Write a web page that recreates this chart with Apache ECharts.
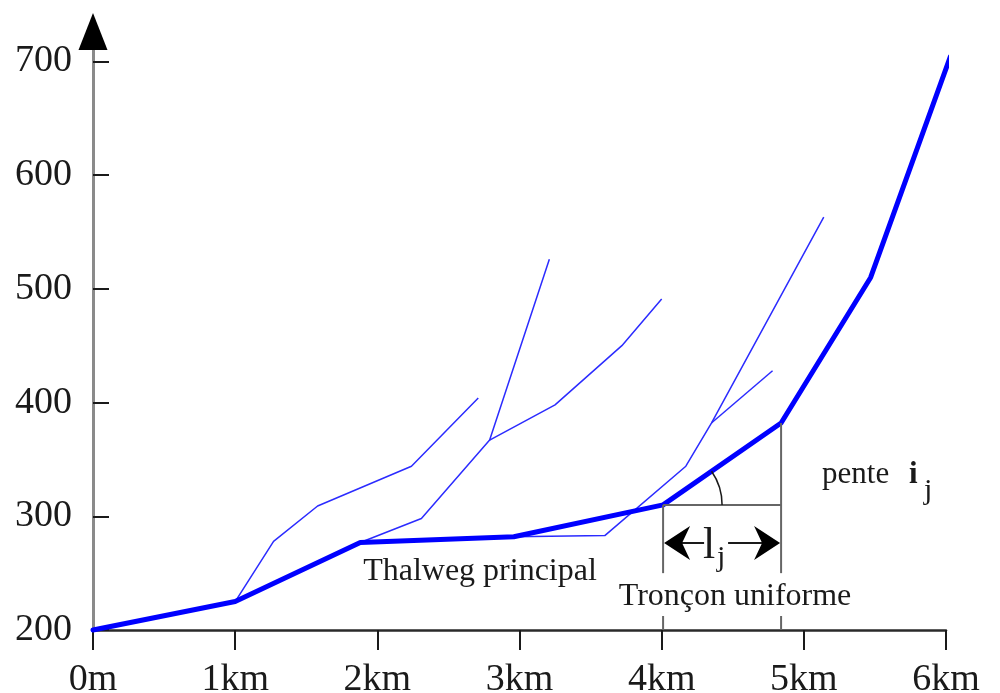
<!DOCTYPE html>
<html>
<head>
<meta charset="utf-8">
<script src="https://cdn.jsdelivr.net/npm/echarts@6/dist/echarts.min.js"></script>
<style>
  html, body { margin: 0; padding: 0; background: #fff; }
  #chart { width: 1000px; height: 693px; }
</style>
</head>
<body>
<div id="chart"></div>
<script>
// ===== 数据 =====
var xTickLabels = ['0m', '1km', '2km', '3km', '4km', '5km', '6km'];
var yTicks = [200, 300, 400, 500, 600, 700];

// Thalweg principal (km, m)
var mainX = [0, 1.0, 1.88, 2.96, 4.01, 4.84, 5.47, 6.03];
var mainY = [200, 225, 277, 282, 310, 382, 510, 704];

// affluents
var branch1X = [1.0, 1.27, 1.58, 2.24, 2.71];
var branch1Y = [225, 278, 309, 344, 404];
var branch2X = [1.88, 2.31, 2.79, 3.21];
var branch2Y = [277, 298, 367, 526];
var branch3X = [2.79, 3.25, 3.72, 4.0];
var branch3Y = [367, 398, 450, 491];
var branch4X = [2.96, 3.60, 4.17, 4.35, 5.14];
var branch4Y = [282, 283, 344, 382, 563];
var branch5X = [4.35, 4.78];
var branch5Y = [382, 428];

// tronçon uniforme = segment 4 -> 5 du thalweg
var segFrom = 4, segTo = 5;
var guideLow = 250;     // bas des traits verticaux (m)
var arrowLevel = 276.5; // niveau de la flèche l_j (m)

var serif = '"Liberation Serif", "Times New Roman", serif';

function pairs(xs, ys) {
  return xs.map(function (x, i) { return [x, ys[i]]; });
}

function thinLine(xs, ys) {
  return {
    type: 'line',
    data: pairs(xs, ys),
    symbol: 'none',
    clip: false,
    silent: true,
    lineStyle: { color: '#2b2bff', width: 1.5 },
    z: 2
  };
}

// ===== annotations =====
function renderNotes(params, api) {
  var a = api.coord([mainX[segFrom], mainY[segFrom]]);
  var b = api.coord([mainX[segTo], mainY[segTo]]);
  var low = api.coord([0, guideLow])[1];
  var axisY = api.coord([0, 200])[1];
  var ay = api.coord([0, arrowLevel])[1];
  var top = api.coord([0, 710]);
  var gray = { stroke: '#666', lineWidth: 2 };
  var ink = '#1a1a1a';
  var mid = a[0] + 46;

  function line(x1, y1, x2, y2, st) {
    return { type: 'line', shape: { x1: x1, y1: y1, x2: x2, y2: y2 }, style: st };
  }
  function text(str, x, y, size, opts) {
    opts = opts || {};
    return {
      type: 'text', x: x, y: y,
      style: {
        text: str, fontSize: size, fontFamily: serif, fontWeight: opts.bold ? 'bold' : 'normal',
        fill: ink, align: opts.align || 'center', verticalAlign: 'middle'
      }
    };
  }

  var children = [
    // flèche de l'axe y
    { type: 'polygon', shape: { points: [[top[0], top[1] - 37], [top[0] - 14.5, top[1]], [top[0] + 14.5, top[1]]] }, style: { fill: '#000' } },
    // base horizontale + verticales
    line(a[0], a[1], b[0], a[1], gray),
    line(b[0], b[1], b[0], low, gray),
    line(a[0], a[1], a[0], low, gray),
    line(a[0], axisY - 14, a[0], axisY, gray),
    line(b[0], axisY - 14, b[0], axisY, gray),
    // angle
    { type: 'arc', shape: { cx: a[0], cy: a[1], r: 59, startAngle: 0, endAngle: Math.atan2(b[1] - a[1], b[0] - a[0]), clockwise: false }, style: { stroke: ink, lineWidth: 1.5, fill: 'none' } },
    // double flèche l_j
    line(a[0] + 18, ay, mid - 5, ay, { stroke: ink, lineWidth: 2 }),
    line(mid + 19, ay, b[0] - 18, ay, { stroke: ink, lineWidth: 2 }),
    { type: 'polygon', shape: { points: [[a[0] + 1, ay], [a[0] + 27, ay - 17], [a[0] + 19, ay], [a[0] + 27, ay + 17]] }, style: { fill: '#000' } },
    { type: 'polygon', shape: { points: [[b[0] - 1, ay], [b[0] - 27, ay - 17], [b[0] - 19, ay], [b[0] - 27, ay + 17]] }, style: { fill: '#000' } },
    text('l', mid, ay + 3, 44),
    text('j', mid + 12, ay + 15, 30),
    // textes
    text('Thalweg principal', api.coord([2.722, 0])[0], api.coord([0, 251])[1], 32),
    text('Tronçon uniforme', api.coord([4.516, 0])[0], api.coord([0, 229])[1], 32),
    text('pente', api.coord([5.128, 0])[0], api.coord([0, 336.6])[1], 31, { align: 'left' }),
    text('i', api.coord([5.74, 0])[0], api.coord([0, 336.6])[1], 31, { align: 'left', bold: true }),
    text('j', api.coord([5.845, 0])[0], api.coord([0, 322])[1], 30, { align: 'left' })
  ];
  return { type: 'group', children: children };
}

var chart = echarts.init(document.getElementById('chart'));

var option = {
  backgroundColor: '#fff',
  animation: false,
  grid: { left: 93, right: 54, top: 50, bottom: 63, containLabel: false, outerBoundsMode: 'none' },
  xAxis: {
    type: 'value', min: 0, max: 6, interval: 1,
    axisLine: { lineStyle: { color: '#2a2a2a', width: 2.5 } },
    axisTick: { length: 20, lineStyle: { color: '#1a1a1a', width: 2 } },
    axisLabel: {
      formatter: function (v) { return xTickLabels[v] || ''; },
      fontSize: 38, fontFamily: serif, color: '#1a1a1a', margin: 31,
      showMinLabel: true, showMaxLabel: true
    },
    splitLine: { show: false }
  },
  yAxis: {
    type: 'value', min: 200, max: 710,
    axisLine: { show: true, lineStyle: { color: '#8a8a8a', width: 3 } },
    axisTick: { show: true, inside: true, length: 16, customValues: yTicks, lineStyle: { color: '#1a1a1a', width: 2 } },
    axisLabel: { customValues: yTicks, fontSize: 38, fontFamily: serif, color: '#1a1a1a', margin: 21 },
    splitLine: { show: false }
  },
  series: [
    thinLine(branch1X, branch1Y),
    thinLine(branch2X, branch2Y),
    thinLine(branch3X, branch3Y),
    thinLine(branch4X, branch4Y),
    thinLine(branch5X, branch5Y),
    {
      type: 'line',
      data: pairs(mainX, mainY),
      symbol: 'none',
      clip: false,
      silent: true,
      lineStyle: { color: '#0000ff', width: 5, join: 'round', cap: 'round' },
      z: 3
    },
    {
      type: 'custom',
      renderItem: renderNotes,
      data: [[0, 200]],
      silent: true,
      z: 4
    }
  ]
};

chart.setOption(option);
</script>
</body>
</html>
